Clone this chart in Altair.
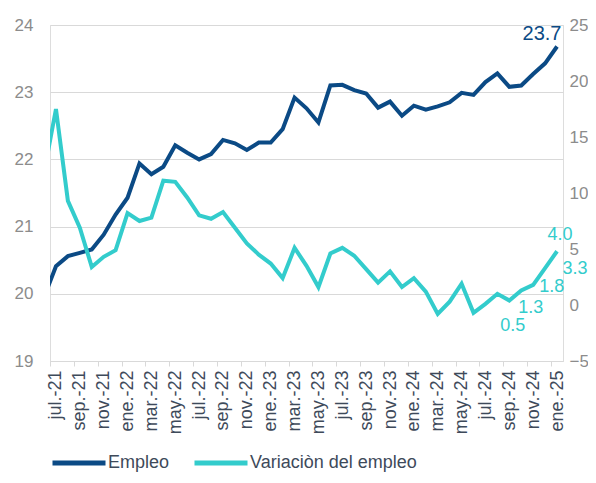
import altair as alt
import pandas as pd

# ---- data ----
meses = ["jun.-21",
         "jul.-21", "ago.-21", "sep.-21", "oct.-21", "nov.-21", "dic.-21",
         "ene.-22", "feb.-22", "mar.-22", "abr.-22", "may.-22", "jun.-22",
         "jul.-22", "ago.-22", "sep.-22", "oct.-22", "nov.-22", "dic.-22",
         "ene.-23", "feb.-23", "mar.-23", "abr.-23", "may.-23", "jun.-23",
         "jul.-23", "ago.-23", "sep.-23", "oct.-23", "nov.-23", "dic.-23",
         "ene.-24", "feb.-24", "mar.-24", "abr.-24", "may.-24", "jun.-24",
         "jul.-24", "ago.-24", "sep.-24", "oct.-24", "nov.-24", "dic.-24",
         "ene.-25"]
indice = list(range(-1, 43))

empleo = [19.95,
          20.41, 20.56, 20.61, 20.66, 20.88, 21.18,
          21.43, 21.94, 21.78, 21.89, 22.21, 22.10,
          22.00, 22.08, 22.29, 22.24, 22.14, 22.25,
          22.25, 22.45, 22.92, 22.76, 22.55, 23.10,
          23.11, 23.03, 22.98, 22.77, 22.86, 22.65,
          22.80, 22.74, 22.79, 22.85, 22.99, 22.96,
          23.15, 23.28, 23.08, 23.10, 23.27, 23.43,
          23.68]

variacion = [11.8,
             17.5, 9.3, 6.9, 3.4, 4.3, 4.9,
             8.2, 7.5, 7.8, 11.1, 11.0, 9.6,
             8.0, 7.7, 8.3, 6.9, 5.5, 4.5,
             3.7, 2.4, 5.1, 3.5, 1.6, 4.6,
             5.1, 4.4, 3.2, 2.0, 3.0, 1.6,
             2.4, 1.2, -0.8, 0.3, 1.9, -0.7,
             0.1, 1.0, 0.4, 1.3, 1.8, 3.3,
             4.8]

series = ["Empleo", "Variaciòn del empleo"]
tick_labels = meses[1::2]
tick_values = list(range(0, 43, 2))

etiqueta_emp_idx = [42]
etiqueta_emp_txt = ["23.7"]
etiqueta_var_idx = [38, 39, 40, 41, 42]
etiqueta_var_txt = ["0.5", "1.3", "1.8", "3.3", "4.0"]

# ---- styling ----
DARK = "#0b4a85"
CYAN = "#33cccc"
GRID = "#d9d9d9"
FONT = "Liberation Sans"

df = pd.DataFrame({"idx": indice, "mes": meses,
                   series[0]: empleo, series[1]: variacion})
long = df.melt(id_vars=["idx", "mes"], var_name="serie", value_name="valor")

label_expr = "[" + ",".join("'" + t + "'" for t in tick_labels) + "][datum.value / 2]"

x_enc = alt.X("idx:Q",
              scale=alt.Scale(domain=[-0.5, 42.5], nice=False, zero=False),
              axis=alt.Axis(values=tick_values, labelExpr=label_expr,
                            labelAngle=-90, tickOffset=-6, labelOffset=6,
                            grid=False, title=None, domainColor=GRID,
                            tickColor=GRID, tickSize=5, labelColor="#3e4a5a",
                            labelFontSize=18, labelFont=FONT, labelPadding=4))

y_left = alt.Y("valor:Q",
               scale=alt.Scale(domain=[19, 24], nice=False, zero=False),
               axis=alt.Axis(values=[19, 20, 21, 22, 23, 24], grid=True,
                             gridColor=GRID, domain=False, ticks=False,
                             tickSize=0, labelPadding=17, title=None,
                             labelColor="#8c8c8c", labelFontSize=17,
                             labelFont=FONT))

y_right = alt.Y("valor:Q",
                scale=alt.Scale(domain=[-5, 25], nice=False, zero=False),
                axis=alt.Axis(orient="right", values=[-5, 0, 5, 10, 15, 20, 25],
                              grid=False, domain=False, ticks=False, tickSize=0,
                              labelPadding=6, title=None, labelColor="#8c8c8c",
                              labelFontSize=17, labelFont=FONT))

color_enc = alt.Color("serie:N",
                      scale=alt.Scale(domain=series, range=[DARK, CYAN]),
                      legend=alt.Legend(title=None, orient="none", legendX=0,
                                        legendY=409, direction="horizontal",
                                        symbolType="stroke", symbolSize=2809,
                                        symbolStrokeWidth=5, labelFontSize=18,
                                        labelFont=FONT, labelColor="#3e4a5a",
                                        columnPadding=14, labelOffset=0,
                                        labelLimit=400))

base = alt.Chart(long)

line_emp = base.transform_filter(alt.datum.serie == series[0]).mark_line(
    strokeWidth=4, clip=True).encode(x=x_enc, y=y_left, color=color_enc)

line_var = base.transform_filter(alt.datum.serie == series[1]).mark_line(
    strokeWidth=4, clip=True).encode(x=x_enc, y=y_right, color=color_enc)


def label_layer(serie, idx, txt, col, dx, dy, size):
    return base.transform_filter(
        (alt.datum.serie == serie) & (alt.datum.idx == idx)
    ).mark_text(
        dx=dx, dy=dy, fontSize=size, font=FONT, color=col
    ).encode(x=x_enc,
             y=y_left if serie == series[0] else y_right,
             text=alt.value(txt))


emp_labels = [label_layer(series[0], i, t, DARK, -15, -12.5, 20)
              for i, t in zip(etiqueta_emp_idx, etiqueta_emp_txt)]

offsets = [(3.5, 25), (9.5, 17.5), (18.5, 2.5), (30, 1), (3, -16)]
var_labels = [label_layer(series[1], i, t, CYAN, o[0], o[1], 18)
              for i, t, o in zip(etiqueta_var_idx, etiqueta_var_txt, offsets)]

left = alt.layer(line_emp, *emp_labels)
right = alt.layer(line_var, *var_labels)

chart = alt.layer(left, right).resolve_scale(y="independent").properties(
    width=513, height=336,
    padding={"left": 42, "top": 17, "right": 25, "bottom": 112},
    autosize=alt.AutoSizeParams(type="none"),
).configure_view(stroke=None).configure(background="white")

chart.save("out.html", embed_options={"renderer": "svg", "actions": False})
